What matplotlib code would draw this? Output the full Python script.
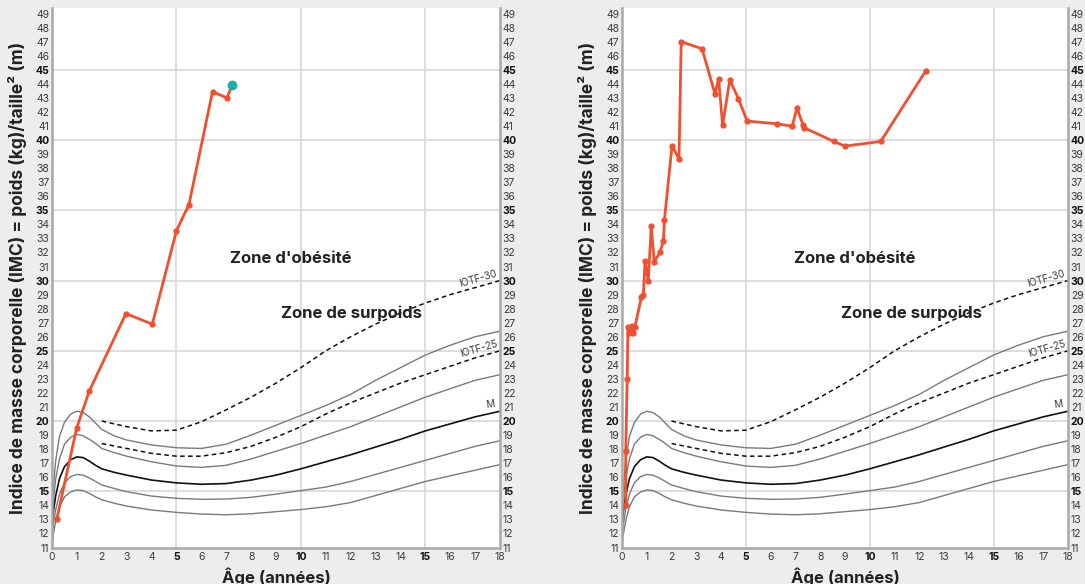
import numpy as np
import matplotlib.pyplot as plt

plt.rcParams['font.family'] = ['Inter', 'DejaVu Sans']

# Reference BMI curves (girls), ages in years
ages_ref = [0, 0.05, 0.15, 0.3, 0.5, 0.75, 1, 1.25, 1.5, 1.75, 2, 2.5, 3, 4, 5, 6, 7,
            8, 9, 10, 11, 12, 13, 14, 15, 16, 17, 18]
curve_top = [13.0, 15.2, 17.2, 18.9, 19.9, 20.5, 20.7, 20.6, 20.3, 19.85, 19.4, 18.95,
             18.65, 18.3, 18.1, 18.05, 18.35, 19.0, 19.7, 20.4, 21.1, 21.9, 22.9, 23.8,
             24.7, 25.4, 26.0, 26.4]
curve_high = [12.6, 14.3, 15.9, 17.3, 18.35, 18.85, 19.05, 18.95, 18.7, 18.4, 18.05,
              17.75, 17.5, 17.1, 16.8, 16.7, 16.85, 17.3, 17.85, 18.4, 19.0, 19.6, 20.3,
              21.0, 21.7, 22.3, 22.9, 23.3]
curve_m = [12.2, 13.5, 14.7, 15.9, 16.75, 17.25, 17.45, 17.4, 17.15, 16.85, 16.6, 16.35,
           16.15, 15.8, 15.6, 15.5, 15.55, 15.8, 16.15, 16.6, 17.1, 17.6, 18.15, 18.7,
           19.3, 19.8, 20.3, 20.7]
curve_low = [11.6, 12.6, 13.7, 14.8, 15.6, 16.05, 16.2, 16.15, 15.95, 15.7, 15.45,
             15.2, 14.97, 14.66, 14.5, 14.43, 14.45, 14.57, 14.8, 15.05, 15.3, 15.7,
             16.2, 16.7, 17.2, 17.7, 18.2, 18.6]
curve_bottom = [11.1, 11.9, 12.9, 13.9, 14.6, 14.95, 15.1, 15.05, 14.85, 14.6, 14.4,
                14.15, 13.95, 13.67, 13.5, 13.38, 13.33, 13.4, 13.55, 13.7, 13.9, 14.2,
                14.7, 15.2, 15.7, 16.1, 16.5, 16.9]

ages_iotf = [2, 3, 4, 5, 6, 7, 8, 9, 10, 11, 12, 13, 14, 15, 16, 17, 18]
iotf_30 = [20.0, 19.6, 19.3, 19.35, 19.95, 20.8, 21.7, 22.7, 23.8, 25.0, 26.0, 26.9,
           27.7, 28.4, 29.0, 29.5, 30.0]
iotf_25 = [18.4, 18.05, 17.7, 17.5, 17.5, 17.75, 18.2, 18.85, 19.6, 20.5, 21.3, 22.0,
           22.7, 23.3, 23.9, 24.5, 25.0]

# Patient 1
age_p1 = [0.19, 0.99, 1.5, 2.97, 4.03, 5.0, 5.5, 6.45, 7.03, 7.23]
bmi_p1 = [13.0, 19.5, 22.15, 27.65, 26.9, 33.55, 35.4, 43.45, 43.0, 43.9]

# Patient 2
age_p2 = [0.16, 0.15, 0.21, 0.24, 0.3, 0.39, 0.46, 0.52, 0.78, 0.86, 0.93, 1.06, 1.18,
          1.3, 1.53, 1.67, 1.71, 2.02, 2.3, 2.39, 3.23, 3.75, 3.9, 4.06, 4.35, 4.7,
          5.05, 6.26, 6.87, 7.06, 7.31, 7.35, 8.55, 9.0, 10.44, 12.25]
bmi_p2 = [14.0, 17.9, 23.0, 26.7, 26.3, 26.8, 26.3, 26.7, 28.8, 28.97, 31.4, 29.97, 33.9,
          31.35, 32.0, 32.8, 34.3, 39.6, 38.65, 47.0, 46.5, 43.3, 44.35, 41.07, 44.27,
          42.94, 41.35, 41.16, 40.98, 42.3, 41.05, 40.88, 39.9, 39.57, 39.9, 44.9]

x_ticks = list(range(0, 19))
y_ticks = list(range(11, 50))

RED = '#F0502F'
TEAL = '#17AFA6'
GRID = '#D8D8D8'
TXT = '#3A3A3A'


def draw_chart(ax, ages, bmi, last_teal, zone_x):
    ax.set_facecolor('white')
    ax.set_xlim(0, 18)
    ax.set_ylim(11, 49.4)

    for v in (5, 10, 15):
        ax.axvline(v, color=GRID, lw=1.2, zorder=0)
    for v in range(15, 50, 5):
        ax.axhline(v, color=GRID, lw=1.2, zorder=0)

    for c in (curve_top, curve_high, curve_low, curve_bottom):
        ax.plot(ages_ref, c, color='#7A7A7A', lw=1.0, zorder=2)
    ax.plot(ages_ref, curve_m, color='#111111', lw=1.2, zorder=2)
    ax.plot(ages_iotf, iotf_30, color='#111111', lw=1.1, ls=(0, (3, 2.2)), zorder=2)
    ax.plot(ages_iotf, iotf_25, color='#111111', lw=1.1, ls=(0, (3, 2.2)), zorder=2)

    ax.text(17.1, 30.1, 'IOTF-30', rotation=16, fontsize=7, color=TXT,
            ha='center', va='center')
    ax.text(17.15, 25.15, 'IOTF-25', rotation=16, fontsize=7, color=TXT,
            ha='center', va='center')
    ax.text(17.6, 21.15, 'M', rotation=8, fontsize=7, color=TXT,
            ha='center', va='center')

    ax.text(zone_x[0], 31.6, "Zone d'obésité", fontsize=12, fontweight='bold',
            color='#222222', ha='center', va='center')
    ax.text(zone_x[1], 27.7, 'Zone de surpoids', fontsize=12, fontweight='bold',
            color='#222222', ha='center', va='center')

    ax.plot(ages, bmi, color=RED, lw=2.0, marker='o', ms=3.5, zorder=4)
    if last_teal:
        ax.plot(ages[-1], bmi[-1], 'o', color=TEAL, ms=6, zorder=5)

    ax.set_xticks(x_ticks)
    ax.set_yticks(y_ticks)
    ax.tick_params(axis='both', length=0, labelsize=7.5, labelcolor=TXT, pad=3)
    ax.tick_params(axis='y', right=True, labelright=True, pad=2)
    for lab in ax.get_xticklabels():
        if int(lab.get_text()) % 5 == 0 and lab.get_text() != '0':
            lab.set_fontweight('bold')
            lab.set_color('#111111')
    for lab in ax.get_yticklabels():
        if int(lab.get_text()) % 5 == 0:
            lab.set_fontweight('bold')
            lab.set_color('#111111')

    for side in ('left', 'right', 'bottom'):
        ax.spines[side].set_color('#A8A8A8')
        ax.spines[side].set_linewidth(1.8)
    ax.spines['top'].set_visible(False)

    ax.set_xlabel('Âge (années)', fontsize=12, fontweight='bold', color='#222222',
                  labelpad=4)
    ax.set_ylabel('Indice de masse corporelle (IMC) = poids (kg)/taille² (m)',
                  fontsize=12.5, fontweight='bold', color='#222222', labelpad=6)


fig = plt.figure(figsize=(10.85, 5.84), dpi=100, facecolor='#EDEDED')
ax1 = fig.add_axes([52 / 1085, 1 - 547.5 / 584, 448 / 1085, 539.5 / 584])
ax2 = fig.add_axes([622 / 1085, 1 - 547.5 / 584, 446 / 1085, 539.5 / 584])

draw_chart(ax1, age_p1, bmi_p1, True, (9.6, 12.05))
draw_chart(ax2, age_p2, bmi_p2, False, (9.4, 11.7))

fig.savefig('out.png', dpi=100, facecolor=fig.get_facecolor())
